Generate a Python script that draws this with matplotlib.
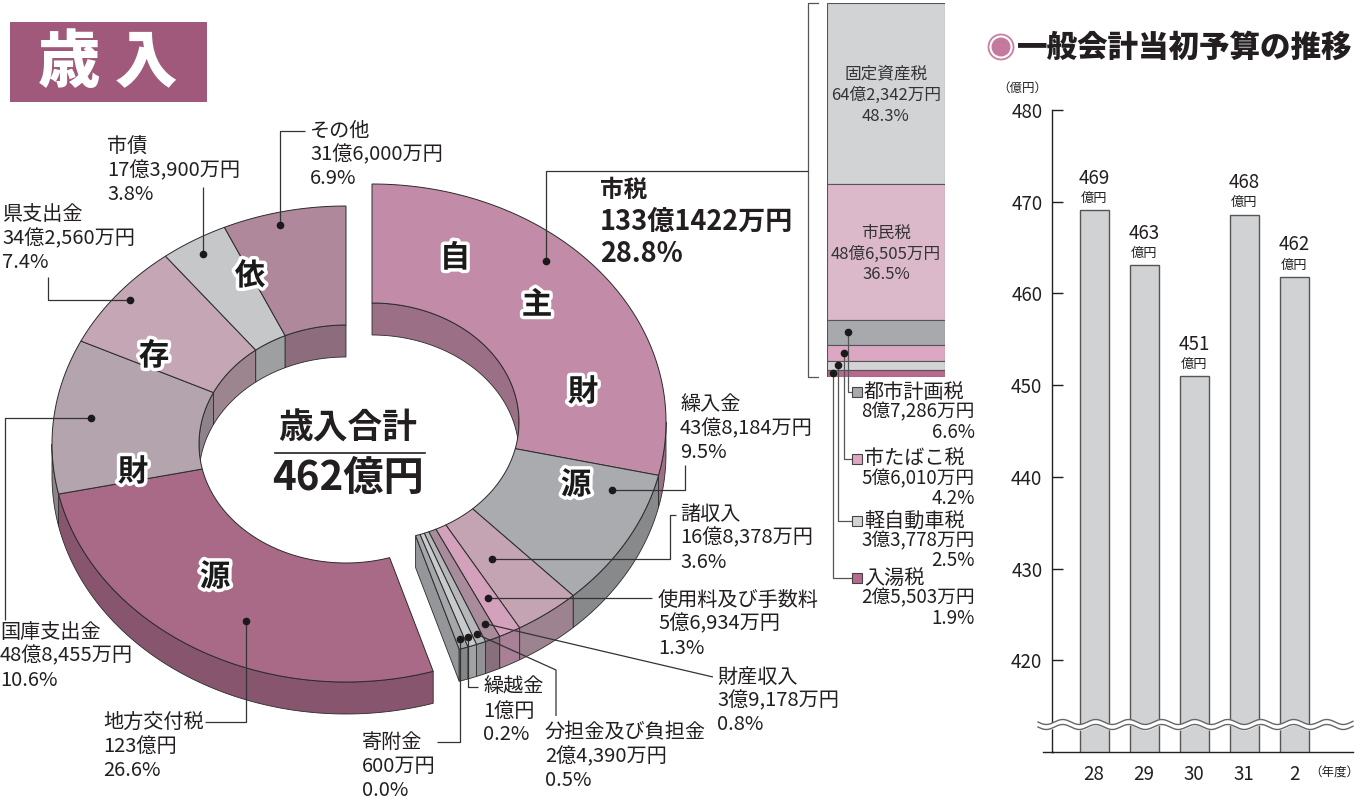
import numpy as np
import matplotlib.pyplot as plt
import matplotlib.colors as mcolors
import matplotlib.patheffects as pe
from matplotlib.patches import Polygon, Rectangle, Circle

plt.rcParams['font.family'] = ['Noto Sans CJK JP', 'DejaVu Sans']

# 歳入 (万円) 自主財源
own_names = ['市税', '繰入金', '諸収入', '使用料及び手数料', '財産収入',
             '分担金及び負担金', '繰越金', '寄附金']
own_values = [1331422, 438184, 168378, 56934, 39178, 24390, 10000, 600]
own_amounts = ['133億1422万円', '43億8,184万円', '16億8,378万円', '5億6,934万円',
               '3億9,178万円', '2億4,390万円', '1億円', '600万円']
own_pcts = ['28.8%', '9.5%', '3.6%', '1.3%', '0.8%', '0.5%', '0.2%', '0.0%']
own_colors = ['#c28ca8', '#aaabae', '#c4a4b3', '#d3a1bc', '#a98c9b',
              '#b6b7ba', '#c9cacc', '#a6a7aa']

# 依存財源
dep_names = ['地方交付税', '国庫支出金', '県支出金', '市債', 'その他']
dep_values = [1230000, 488455, 342560, 173900, 316000]
dep_amounts = ['123億円', '48億8,455万円', '34億2,560万円', '17億3,900万円', '31億6,000万円']
dep_pcts = ['26.6%', '10.6%', '7.4%', '3.8%', '6.9%']
dep_colors = ['#a96a88', '#b3a4ae', '#c4a6b4', '#c6c7c9', '#b0889c']

# 市税の内訳
tax_names = ['固定資産税', '市民税', '都市計画税', '市たばこ税', '軽自動車税', '入湯税']
tax_amounts = ['64億2,342万円', '48億6,505万円', '8億7,286万円', '5億6,010万円',
               '3億3,778万円', '2億5,503万円']
tax_pcts = [48.3, 36.5, 6.6, 4.2, 2.5, 1.9]
tax_colors = ['#d2d3d5', '#dbb9ca', '#a8a9ac', '#dca7c2', '#d2d3d5', '#b9688f']

# 一般会計当初予算の推移
years = ['28', '29', '30', '31', '2']
budget = [469.1, 463.1, 451.0, 468.6, 461.8]
budget_labels = ['469', '463', '451', '468', '462']

TXT = '#231f20'
EDGE = '#2b2b2b'
W, H = 1371, 802

fig = plt.figure(figsize=(W / 100, H / 100), dpi=100)
ax = fig.add_axes([0, 0, 1, 1])
ax.set_xlim(0, W)
ax.set_ylim(H, 0)
ax.axis('off')
ax.set_zorder(5)

# title box
ax.add_patch(Rectangle((10, 22), 197, 80, fc='#a0587b', ec='none'))
ax.text(108, 63, '歳 入', fontsize=45, weight='heavy', color='white', ha='center', va='center')

# ---- donut ----
RA, RB = 294, 238
HOLE = 0.5
DEPTH = 32
c_own = (372, 422)
c_dep = (346, 444)

total = sum(own_values) + sum(dep_values)
w_min = total * 0.005
deg = 360.0 / sum(max(v, w_min) for v in own_values + dep_values)


def darker(c, k=0.8):
    r, g, b = mcolors.to_rgb(c)
    return (r * k, g * k, b * k)


def ell(c, s, t, dy=0.0):
    t = np.radians(np.atleast_1d(t))
    return np.column_stack([c[0] + s * RA * np.cos(t), c[1] - s * RB * np.sin(t) + dy])


def arc(c, s, t0, t1, dy=0.0):
    n = max(int(abs(t0 - t1)) + 2, 3)
    return ell(c, s, np.linspace(t0, t1, n), dy)


def span(t0, t1, lo, hi):
    a, b = max(t1, lo), min(t0, hi)
    return (b, a) if b > a else None


def draw_group(c, values, colors, start):
    segs = []
    t = start
    for v in values:
        d = max(v, w_min) * deg
        segs.append((t, t - d))
        t -= d
    for (t0, t1), col in zip(segs, colors):
        for lo, hi in [(0, 180), (-360, -180)]:
            sp = span(t0, t1, lo, hi)
            if sp:
                pts = np.vstack([arc(c, HOLE, sp[0], sp[1]), arc(c, HOLE, sp[1], sp[0], DEPTH)])
                ax.add_patch(Polygon(pts, fc=darker(col), ec=EDGE, lw=0.6, zorder=1))
    # cut faces
    ends = [(segs[0][0], colors[0], np.cos(np.radians(segs[0][0])) < -1e-6),
            (segs[-1][1], colors[-1], np.cos(np.radians(segs[-1][1])) > 1e-6)]
    for te, col, vis in ends:
        if vis:
            pts = np.vstack([ell(c, HOLE, te), ell(c, 1, te), ell(c, 1, te, DEPTH), ell(c, HOLE, te, DEPTH)])
            ax.add_patch(Polygon(pts, fc=darker(col, 0.9), ec=EDGE, lw=0.6, zorder=1.5))
    for (t0, t1), col in zip(segs, colors):
        for lo, hi in [(-180, 0), (-540, -360)]:
            sp = span(t0, t1, lo, hi)
            if sp:
                pts = np.vstack([arc(c, 1, sp[0], sp[1]), arc(c, 1, sp[1], sp[0], DEPTH)])
                ax.add_patch(Polygon(pts, fc=darker(col), ec=EDGE, lw=0.6, zorder=2))
    for (t0, t1), col in zip(segs, colors):
        pts = np.vstack([arc(c, 1, t0, t1), arc(c, HOLE, t1, t0)])
        ax.add_patch(Polygon(pts, fc=col, ec=EDGE, lw=0.7, zorder=3))
    return segs


own_segs = draw_group(c_own, own_values, own_colors, 90)
dep_segs = draw_group(c_dep, dep_values, dep_colors, own_segs[-1][1])


def dot_pos(c, seg, f, g):
    t = seg[0] + f * (seg[1] - seg[0])
    return ell(c, HOLE + g * (1 - HOLE), t)[0]


def leader(p, moves, z=6):
    xs, ys = [p[0]], [p[1]]
    for m in moves:
        if m[0] == 'v':
            xs.append(xs[-1]); ys.append(m[1])
        elif m[0] == 'h':
            xs.append(m[1]); ys.append(ys[-1])
        else:
            xs.append(m[1]); ys.append(m[2])
    ax.plot(xs, ys, color='#333333', lw=0.9, zorder=z, solid_capstyle='butt')
    ax.plot(p[0], p[1], 'o', ms=4.5, color='#1a1a1a', zorder=z + 1)


def label(x, y, lines, size=14.5, ha='left', dy=24, weight='normal'):
    for i, s in enumerate(lines):
        ax.text(x, y + i * dy, s, fontsize=size, ha=ha, va='center', color=TXT,
                weight=weight, zorder=8)


own_lab = [
    (0.40, 0.80, None, [('v', 171), ('h', 808)]),
    (0.19, 0.73, (680, 405), [('h', 685), ('v', 465)]),
    (0.60, 0.41, (680, 514), [('h', 670), ('v', 515), ('h', 676)]),
    (0.47, 0.68, (658, 600), [('h', 652)]),
    (0.45, 0.86, (717, 677), [('p', 713, 677)]),
    (0.50, 0.92, (545, 733), [('p', 556, 670), ('v', 716)]),
    (0.50, 0.92, (483, 687), [('v', 687), ('h', 478)]),
    (0.50, 0.92, (362, 742), [('v', 742), ('h', 437)]),
]
for i, (f, g, xy, moves) in enumerate(own_lab):
    leader(dot_pos(c_own, own_segs[i], f, g), moves)
    if xy:
        label(xy[0], xy[1], [own_names[i], own_amounts[i], own_pcts[i]])

ax.text(600, 190, own_names[0], fontsize=17, weight='bold', color=TXT, va='center')
ax.text(600, 222, own_amounts[0], fontsize=19.5, weight='bold', color=TXT, va='center')
ax.text(600, 254, own_pcts[0], fontsize=19.5, weight='bold', color=TXT, va='center')

dep_lab = [
    (0.44, 0.64, (103, 722), [('v', 722), ('h', 205)]),
    (0.51, 0.75, (0, 632), [('h', 5), ('v', 620)]),
    (0.52, 0.90, (2, 215), [('h', 48), ('v', 277)]),
    (0.49, 0.87, (107, 147), [('v', 187)]),
    (0.44, 0.89, (310, 131), [('v', 131), ('h', 305)]),
]
for i, (f, g, xy, moves) in enumerate(dep_lab):
    leader(dot_pos(c_dep, dep_segs[i], f, g), moves)
    label(xy[0], xy[1], [dep_names[i], dep_amounts[i], dep_pcts[i]])

stroke = [pe.withStroke(linewidth=5, foreground='white')]
for ch, (x, y) in zip('自主財源依存財源', [(455, 258), (537, 305), (583, 392), (576, 485),
                                        (250, 276), (154, 356), (133, 472), (215, 577)]):
    ax.text(x, y, ch, fontsize=22, weight='bold', color='#1a1a1a', ha='center', va='center',
            path_effects=stroke, zorder=9)

ax.text(348, 428, '歳入合計', fontsize=25, weight='bold', color=TXT, ha='center', va='center', zorder=9)
ax.plot([275, 425], [453, 453], color=TXT, lw=1.2, zorder=9)
ax.text(348, 478, '462億円', fontsize=29, weight='bold', color=TXT, ha='center', va='center', zorder=9)

# ---- 市税 stacked bar ----
ax_t = fig.add_axes([827 / W, (H - 377) / H, (945 - 827) / W, (377 - 3) / H])
bottoms = np.concatenate([[0], np.cumsum(tax_pcts)[:-1]])
ax_t.bar([0] * len(tax_pcts), tax_pcts, bottom=bottoms, width=1, color=tax_colors,
         edgecolor='#555555', lw=0.8)
ax_t.set_xlim(-0.5, 0.5)
ax_t.set_ylim(100, 0)
ax_t.axis('off')


def to_main(a, x, y):
    return ax.transData.inverted().transform(a.transData.transform((x, y)))


for i in range(2):
    cx, cy = to_main(ax_t, 0, bottoms[i] + tax_pcts[i] / 2)
    for j, s in enumerate([tax_names[i], tax_amounts[i], f'{tax_pcts[i]}%']):
        ax.text(cx, cy - 19 + j * 21, s, fontsize=12, color='#333333', ha='center', va='center')

tax_lab_y = [392, 459, 521, 578]
tax_dot_x = [-0.32, -0.36, -0.41, -0.45]
for k, i in enumerate(range(2, 6)):
    p = to_main(ax_t, tax_dot_x[k], bottoms[i] + tax_pcts[i] / 2)
    y = tax_lab_y[k]
    ax.plot([p[0], p[0], 852], [p[1], y, y], color='#555555', lw=0.9, zorder=6)
    ax.plot(p[0], p[1], 'o', ms=4.5, color='#1a1a1a', zorder=7)
    ax.plot(857, y, 's', ms=7, mfc=tax_colors[i], mec='#444444', mew=0.8, zorder=7)
    ax.text(864, y, tax_names[i], fontsize=14.5, color=TXT, va='center')
    ax.text(975, y + 20, tax_amounts[i], fontsize=13.5, color=TXT, va='center', ha='right')
    ax.text(975, y + 40, f'{tax_pcts[i]}%', fontsize=13.5, color=TXT, va='center', ha='right')

top = to_main(ax_t, -0.5, 0)
bot = to_main(ax_t, -0.5, 100)
bx = top[0] - 19
ax.plot([bx + 10, bx, bx, bx + 10], [top[1], top[1], bot[1], bot[1]], color='#555555', lw=0.9)

# ---- 一般会計当初予算の推移 ----
ax.add_patch(Circle((1001, 47), 12.5, fc='white', ec='#c77fa3', lw=1.3))
ax.add_patch(Circle((1001, 47), 9.5, fc='#c47a9e', ec='none'))
ax.text(1017, 47, '一般会計当初予算の推移', fontsize=22, weight='heavy', color=TXT, va='center')

ax_b = fig.add_axes([1052 / W, (H - 752) / H, (1353 - 1052) / W, (752 - 110) / H])
xpos = np.arange(len(years))
ax_b.bar(xpos, budget, width=0.58, color='#d1d2d4', edgecolor='#555555', lw=1.0)
ax_b.set_ylim(410, 480)
ax_b.set_xlim(-0.84, 5.18)
ax_b.set_yticks(np.arange(420, 481, 10))
ax_b.set_xticks(xpos, years)
for s in ['top', 'right']:
    ax_b.spines[s].set_visible(False)
for s in ['left', 'bottom']:
    ax_b.spines[s].set_color('#222222')
    ax_b.spines[s].set_linewidth(1.0)
ax_b.tick_params(axis='y', direction='in', length=8, width=1, labelsize=13.5, pad=7, colors=TXT)
ax_b.tick_params(axis='x', length=0, labelsize=13.5, pad=9, colors=TXT)
for x, v, lb in zip(xpos, budget, budget_labels):
    ax_b.annotate(lb, (x, v), xytext=(0, 23), textcoords='offset points', ha='center',
                  va='center', fontsize=13.5, color=TXT)
    ax_b.annotate('億円', (x, v), xytext=(0, 8.5), textcoords='offset points', ha='center',
                  va='center', fontsize=9.5, color=TXT)

ax.text(1022, 88, '（億円）', fontsize=9, color=TXT, ha='center', va='center')
ax.text(1334, 773, '（年度）', fontsize=9, color=TXT, ha='center', va='center')
ax.plot([1043, 1053], [752, 752], color='#222222', lw=1.0)

# wavy break
wx = np.linspace(1038, 1353, 400)
wy = 722 + 2.5 * np.sin(2 * np.pi * (wx - 1038) / 33)
ax.fill_between(wx, wy, wy + 5, color='white', zorder=10)
ax.plot(wx, wy, color='#666666', lw=1.0, zorder=11)
ax.plot(wx, wy + 5, color='#666666', lw=1.0, zorder=11)

fig.savefig('out.png', dpi=100)
